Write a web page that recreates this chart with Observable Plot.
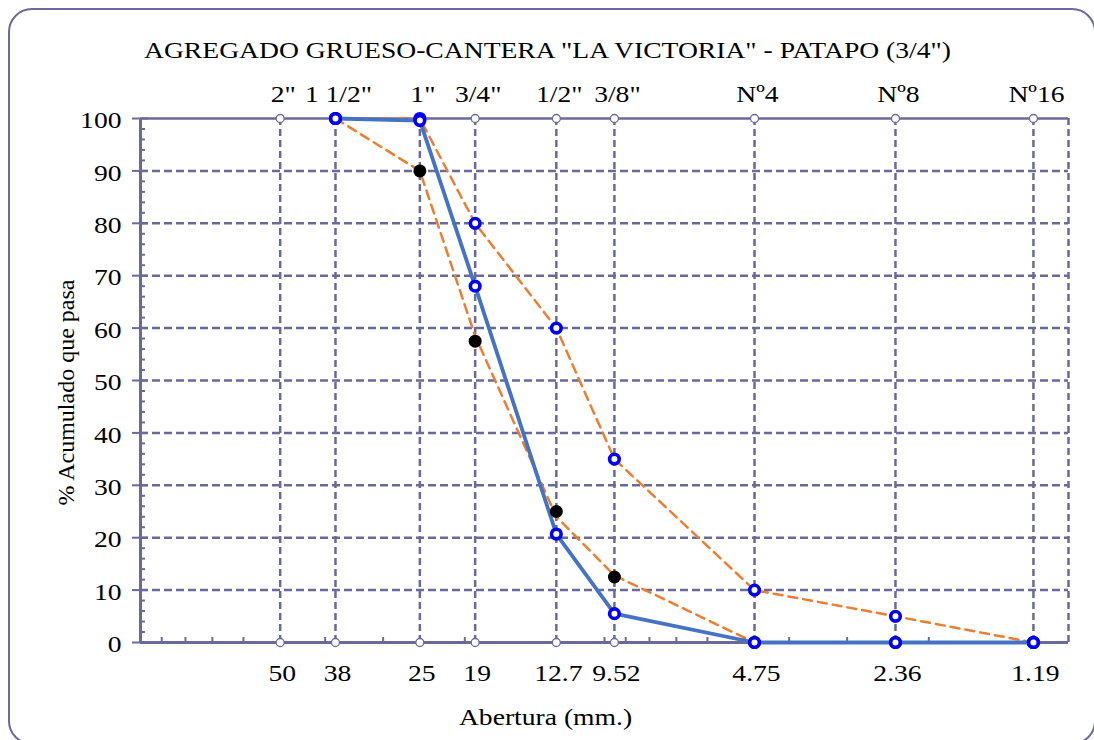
<!DOCTYPE html>
<html><head><meta charset="utf-8">
<script src="https://cdn.jsdelivr.net/npm/d3@7"></script>
<script src="https://cdn.jsdelivr.net/npm/@observablehq/plot@0.6"></script>
<style>
html,body{margin:0;padding:0;background:#fff;overflow:hidden;width:1094px;height:740px}
#frame{position:absolute;left:8px;top:8px;width:1088px;height:737px;border:2px solid #6a6a9a;border-radius:24px;box-sizing:border-box}
#chart{position:absolute;left:0;top:0}
</style></head><body>
<div id="frame"></div><div id="chart"></div>
<script>
const tituloGrafico = 'AGREGADO GRUESO-CANTERA "LA VICTORIA" - PATAPO (3/4")';
const tituloX = "Abertura (mm.)";
const tituloY = "% Acumulado que pasa";
const tamicesMM = [50, 38, 25, 19, 12.7, 9.52, 4.75, 2.36, 1.19];
const tamicesNombre = ['2"', '1 1/2"', '1"', '3/4"', '1/2"', '3/8"', 'Nº4', 'Nº8', 'Nº16'];
const tamicesEtiqueta = ["50", "38", "25", "19", "12.7", "9.52", "4.75", "2.36", "1.19"];
const aberturaSerie = [38, 25, 19, 12.7, 9.52, 4.75, 2.36, 1.19];
const pasaMuestra = [100, 99.6, 68, 20.7, 5.5, 0, 0, 0];
const limiteSuperior = [100, 100, 80, 60, 35, 10, 5, 0];
const limiteInferiorLinea = [100, 90, 58.5, 24, 12.8, 0, 0, 0];
const limiteInferiorPuntos = [100, 90, 57.5, 25, 12.5, 0, 0, 0];
const yTicks = [0, 10, 20, 30, 40, 50, 60, 70, 80, 90, 100];
const yMinor = [2,4,6,8,12,14,16,18,22,24,26,28,32,34,36,38,42,44,46,48,52,54,56,58,62,64,66,68,72,74,76,78,82,84,86,88,92,94,96,98];
const xMinor = [90, 80, 70, 60, 40, 30, 20, 10, 9, 8, 7, 6, 5, 4, 3, 2];

const W = 1094, H = 740, mL = 140, mR = 26, mT = 118, mB = 98;
const innerW = W - mL - mR, innerH = H - mT - mB;
const grid = "#6a6a9a", orange = "#ed7d31", blueLine = "#4472c4", blueDot = "#0000ff";
const textStretch = 1.15;

const toPts = (vals) => aberturaSerie.map((x, i) => ({x, y: vals[i]}));
const muestra = toPts(pasaMuestra);
const superior = toPts(limiteSuperior);
const inferiorL = toPts(limiteInferiorLinea);
const inferiorP = toPts(limiteInferiorPuntos);

const chart = Plot.plot({
  width: W, height: H, marginLeft: mL, marginRight: mR, marginTop: mT, marginBottom: mB,
  x: {type: "log", domain: [100, 1], axis: null},
  y: {domain: [0, 100], axis: null},
  style: {fontFamily: "'Liberation Serif', 'Times New Roman', serif", fontSize: "24px", color: "#000", background: "transparent"},
  marks: [
    Plot.ruleY(yTicks.filter(v => v > 0 && v < 100), {y: d => d, stroke: grid, strokeWidth: 2.5, strokeDasharray: "8,4"}),
    Plot.ruleX(tamicesMM, {x: d => d, y1: () => 0, y2: () => 100, stroke: grid, strokeWidth: 2.5, strokeDasharray: "7,4"}),
    Plot.ruleX([1], {x: d => d, y1: () => 0, y2: () => 100, stroke: grid, strokeWidth: 2.5, strokeDasharray: "7,4"}),
    Plot.ruleY([100], {y: d => d, stroke: grid, strokeWidth: 2.5}),
    Plot.ruleY([0], {y: d => d, stroke: grid, strokeWidth: 3}),
    Plot.ruleX([100], {x: d => d, y1: () => 0, y2: () => 100, stroke: grid, strokeWidth: 3}),
    Plot.tickY(yTicks, {y: d => d, insetLeft: -8, insetRight: innerW - 8, stroke: grid, strokeWidth: 2}),
    Plot.tickY(yMinor, {y: d => d, insetRight: innerW - 5, stroke: grid, strokeWidth: 2}),
    Plot.tickX(xMinor, {x: d => d, insetTop: innerH - 5, stroke: grid, strokeWidth: 2}),
    Plot.dot(tamicesMM, {x: d => d, y: () => 100, r: 4, stroke: grid, fill: "white", strokeWidth: 1.3}),
    Plot.dot(tamicesMM, {x: d => d, y: () => 0, r: 4, stroke: grid, fill: "white", strokeWidth: 1.3}),
    Plot.line(superior, {x: "x", y: "y", stroke: orange, strokeWidth: 2.5, strokeDasharray: "9,6"}),
    Plot.line(inferiorL, {x: "x", y: "y", stroke: orange, strokeWidth: 2.5, strokeDasharray: "9,6"}),
    Plot.line(muestra, {x: "x", y: "y", stroke: blueLine, strokeWidth: 3.8}),
    Plot.dot(inferiorP, {x: "x", y: "y", r: 6.5, fill: "black"}),
    Plot.dot(superior, {x: "x", y: "y", r: 4.8, stroke: blueDot, strokeWidth: 3.6, fill: "white"}),
    Plot.dot(muestra, {x: "x", y: "y", r: 4.8, stroke: blueDot, strokeWidth: 3.6, fill: "white"}),
    Plot.text([tituloGrafico], {text: d => d, frameAnchor: "top", textAnchor: "middle", dx: -57, dy: -61, lineAnchor: "bottom", fontSize: 24}),
    Plot.text(tamicesMM, {x: d => d, y: () => 100, text: (d, i) => tamicesNombre[i], dx: 3, dy: -17, lineAnchor: "bottom", fontSize: 24}),
    Plot.text(tamicesMM, {x: d => d, y: () => 0, text: (d, i) => tamicesEtiqueta[i], dx: 2, dy: 38, lineAnchor: "bottom", fontSize: 24}),
    Plot.text(yTicks, {y: d => d, text: d => String(d), frameAnchor: "left", dx: -19, dy: 2, textAnchor: "end", fontSize: 24}),
    Plot.text([tituloX], {text: d => d, frameAnchor: "bottom", textAnchor: "middle", dx: -59, dy: 82, lineAnchor: "bottom", fontSize: 24}),
    Plot.text([tituloY], {text: d => d, frameAnchor: "left", textAnchor: "middle", dx: -74, dy: 12, rotate: -90, fontSize: 24})
  ]
});
document.getElementById("chart").appendChild(chart);
// widen horizontal labels to match the reference's horizontally stretched type
chart.querySelectorAll("text").forEach(el => {
  if (el.textContent === tituloY) return;
  const len = el.getComputedTextLength();
  if (len > 0) {
    el.setAttribute("textLength", (len * textStretch).toFixed(1));
    el.setAttribute("lengthAdjust", "spacingAndGlyphs");
  }
});
</script>
</body></html>
